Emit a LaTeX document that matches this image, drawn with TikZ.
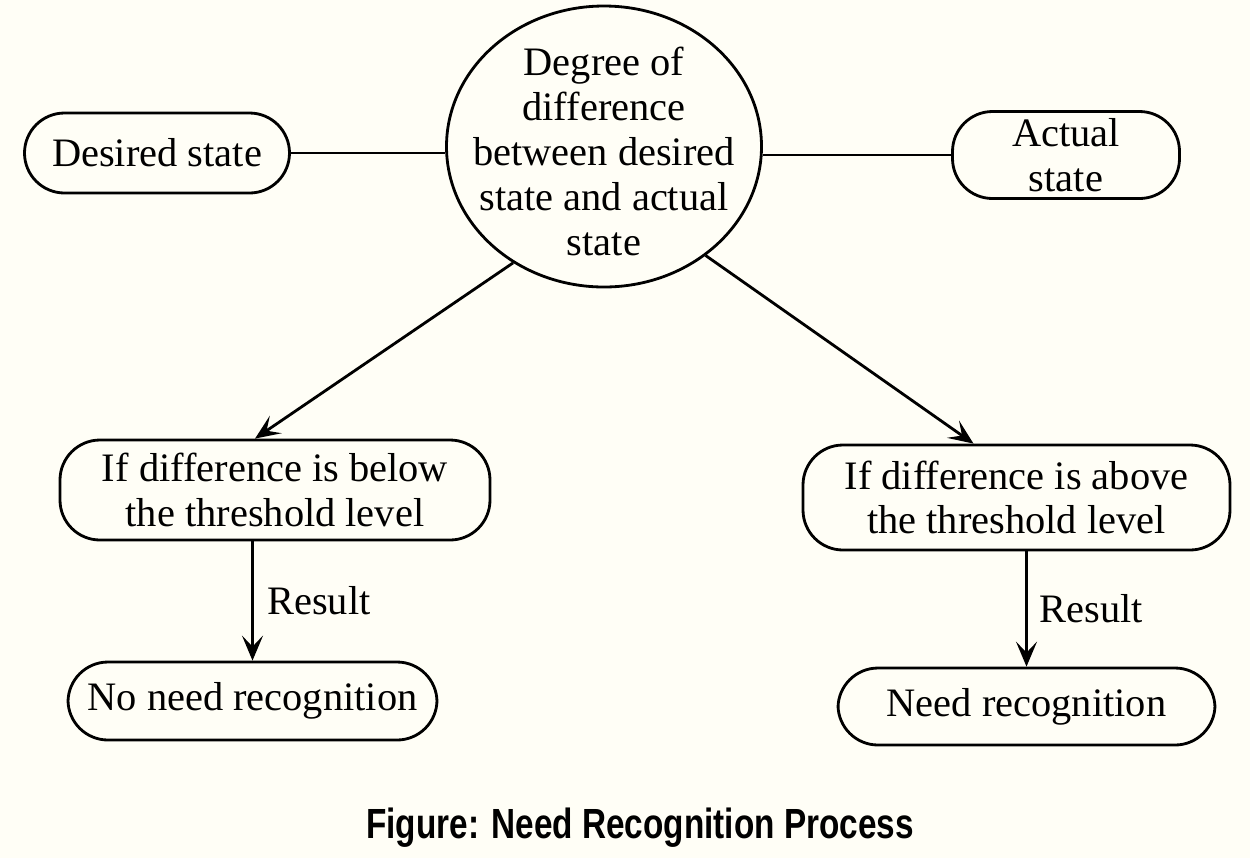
\documentclass[tikz,border=0pt]{standalone}
\usepackage{fontspec}
\setmainfont{Liberation Serif}
\newfontfamily\capfont[FakeStretch=0.79]{Liberation Sans}
\usepackage{tikz}
\usetikzlibrary{arrows.meta,shapes.geometric}
\definecolor{cream}{HTML}{FFFEF6}

\begin{document}
\begin{tikzpicture}[
    statebox/.style={draw, line width=1.6pt, rounded corners=0.8cm, align=center,
        font=\fontsize{23}{25.5}\selectfont, inner sep=0pt},
    arr/.style={-{Stealth[length=0.5cm,width=0.42cm,inset=0.22cm]}, line width=1.6pt}]
    \fill[cream] (0,0) rectangle (25,-17.16);
    \useasboundingbox (0,0) rectangle (25,-17.16);

    \node[draw, ellipse, line width=1.6pt, inner sep=0pt, minimum width=6.3cm,
        minimum height=5.62cm] (circ) at (12.08,-2.93) {}; % difference
    \node[align=center, font=\fontsize{23}{25.5}\selectfont] (circtext) at (12.08,-3.03)
        {Degree of\\difference\\between desired\\state and actual\\state};
    \node[statebox, minimum width=5.3cm, minimum height=1.6cm] (desired) at (3.14,-3.06) {Desired state};
    \node[statebox, minimum width=4.54cm, minimum height=1.74cm] (actual) at (21.32,-3.1) {Actual\\state};

    \node[statebox, minimum width=8.6cm, minimum height=2cm] (below) at (5.5,-9.8)
        {If difference is below\\the threshold level};
    \node[statebox, minimum width=8.54cm, minimum height=2.1cm] (above) at (20.33,-9.95)
        {If difference is above\\the threshold level};

    \node[statebox, minimum width=7.38cm, minimum height=1.56cm] (noneed) at (5.05,-14.02) {No need recognition};
    \node[statebox, minimum width=7.54cm, minimum height=1.54cm] (need) at (20.53,-14.13) {Need recognition};

    \draw[line width=1.6pt] (desired) -- (desired -| circ.west);
    \draw[line width=1.6pt] (actual -| circ.east) -- (actual);

    \draw[arr] (circ.232) -- ([xshift=-0.4cm]below.north);
    \draw[arr] (circ.-47) -- ([xshift=-0.86cm]above.north);

    \draw[arr] (below.south -| noneed) -- (noneed.north)
        node[midway, right=0.15cm, font=\fontsize{23}{25.5}\selectfont] (res1) {Result};
    \draw[arr] (above.south -| need) -- (need.north)
        node[midway, right=0.12cm, font=\fontsize{23}{25.5}\selectfont] (res2) {Result};

    \node[font=\capfont\bfseries\fontsize{24}{28}\selectfont] (caption) at (12.8,-16.56)
        {Figure: Need Recognition Process};
\end{tikzpicture}
\end{document}
